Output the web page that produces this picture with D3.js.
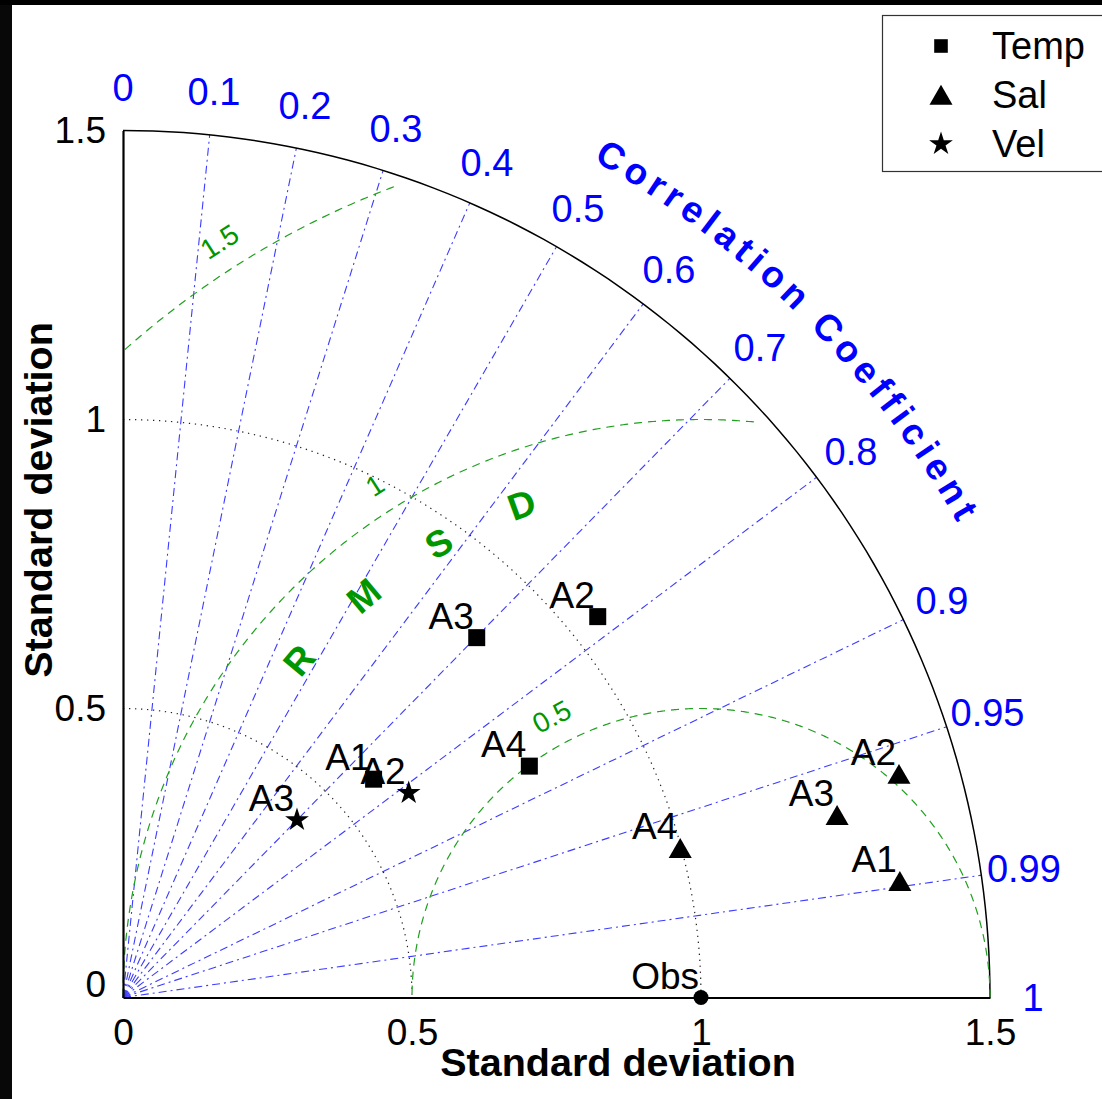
<!DOCTYPE html>
<html>
<head>
<meta charset="utf-8">
<script src="https://cdn.jsdelivr.net/npm/d3@7"></script>
<style>
body { margin: 0; background: #fff; }
text { font-family: "Liberation Sans", Arial, sans-serif; }
</style>
</head>
<body>
<div id="chart"></div>
<script>
// values
const models = ['A1', 'A2', 'A3', 'A4'];
const tempStd = [0.575, 1.053, 0.873, 0.809];
const tempCorr = [0.754, 0.780, 0.701, 0.869];
const salStd = [1.359, 1.397, 1.275, 0.998];
const salCorr = [0.989, 0.961, 0.969, 0.966];
const velModels = ['A2', 'A3'];
const velStd = [0.608, 0.430];
const velCorr = [0.813, 0.700];
const obsStd = 1;

const stdTicks = [0, 0.5, 1, 1.5];
const stdCircles = [0.5, 1];
const corrLines = [0.1, 0.2, 0.3, 0.4, 0.5, 0.6, 0.7, 0.8, 0.9, 0.95, 0.99];
const corrLabels = [0, 0.1, 0.2, 0.3, 0.4, 0.5, 0.6, 0.7, 0.8, 0.9, 0.95, 0.99, 1];
const rmsCircles = [0.5, 1, 1.5];
const rmsLetters = ['R', 'M', 'S', 'D'];
const legendNames = ['Temp', 'Sal', 'Vel'];

const width = 1102, height = 1099;
const origin = { x: 123, y: 997.5 };
const maxStd = 1.5;
const blue = '#0000ff', lineBlue = '#3c3cff', green = '#009600', lineGreen = '#1fa01f';

const svg = d3.select('#chart').append('svg')
    .attr('width', width)
    .attr('height', height);

svg.append('rect').attr('width', width).attr('height', height).attr('fill', '#fff');
svg.append('rect').attr('width', 12).attr('height', height).attr('fill', '#080808');
svg.append('rect').attr('width', width).attr('height', 5).attr('fill', '#000');

const x = d3.scaleLinear().domain([0, maxStd]).range([origin.x, 990]);
const y = d3.scaleLinear().domain([0, maxStd]).range([origin.y, 130.5]);
const r = d3.scaleLinear().domain([0, maxStd]).range([0, 867]);

function toXY(std, corr) {
    return [x(std * corr), y(std * Math.sqrt(1 - corr * corr))];
}

// correlation rays
svg.append('g').selectAll('line')
    .data(corrLines)
    .enter()
    .append('line')
    .attr('x1', x(0)).attr('y1', y(0))
    .attr('x2', d => toXY(maxStd, d)[0])
    .attr('y2', d => toXY(maxStd, d)[1])
    .attr('stroke', lineBlue)
    .attr('stroke-width', 1.1)
    .attr('stroke-dasharray', '8,4,2,4');

// std circles (dotted)
const quarter = d3.range(0, 91).map(a => a * Math.PI / 180);
const radial = d3.lineRadial().angle(d => d[0]).radius(d => d[1]);
const polar = svg.append('g').attr('transform', `translate(${origin.x},${origin.y})`);

polar.selectAll('.std-circle')
    .data(stdCircles)
    .enter()
    .append('path')
    .attr('class', 'std-circle')
    .attr('d', s => radial(quarter.map(a => [a, r(s)])))
    .attr('fill', 'none')
    .attr('stroke', '#222')
    .attr('stroke-width', 1.2)
    .attr('stroke-dasharray', '1.3,4.7');

// RMSD arcs around Obs (stop a little inside the rim, as in the source)
const rmsLine = d3.line()
    .defined(p => p[0] >= 0 && Math.hypot(p[0], p[1]) <= (p[1] > 0.3 ? 1.48 : maxStd))
    .x(p => x(p[0]))
    .y(p => y(p[1]));

svg.append('g').selectAll('path')
    .data(rmsCircles)
    .enter()
    .append('path')
    .attr('d', R => rmsLine(d3.range(0, 721).map(i => {
        const phi = i / 720 * Math.PI;
        return [obsStd + R * Math.cos(phi), R * Math.sin(phi)];
    })))
    .attr('fill', 'none')
    .attr('stroke', lineGreen)
    .attr('stroke-width', 1.2)
    .attr('stroke-dasharray', '8,6');

// outer boundary
polar.append('path')
    .attr('d', radial(quarter.map(a => [a, r(maxStd)])))
    .attr('fill', 'none')
    .attr('stroke', '#000')
    .attr('stroke-width', 1.5);

// axes
const xAxis = svg.append('g')
    .attr('transform', `translate(0,${origin.y})`)
    .call(d3.axisBottom(x).tickValues(stdTicks).tickSize(0).tickSizeOuter(0).tickPadding(21).tickFormat(d => String(d)));
const yAxis = svg.append('g')
    .attr('transform', `translate(${origin.x},0)`)
    .call(d3.axisLeft(y).tickValues(stdTicks).tickSize(0).tickSizeOuter(0).tickPadding(17).tickFormat(d => String(d)));

[xAxis, yAxis].forEach(g => {
    g.select('.domain').attr('stroke', '#000').attr('stroke-width', 2.2);
    g.selectAll('text')
        .attr('font-family', '"Liberation Sans", Arial, sans-serif')
        .attr('font-size', 37)
        .attr('fill', '#000');
});
yAxis.selectAll('.tick text').filter(d => d === 0).attr('y', -13);

svg.append('text')
    .attr('x', 618).attr('y', 1076)
    .attr('text-anchor', 'middle')
    .attr('font-size', 39.5).attr('font-weight', 'bold')
    .text('Standard deviation');

svg.append('text')
    .attr('transform', 'translate(52,500) rotate(-90)')
    .attr('text-anchor', 'middle')
    .attr('font-size', 39.5).attr('font-weight', 'bold')
    .text('Standard deviation');

// correlation labels
svg.append('g').selectAll('text')
    .data(corrLabels)
    .enter()
    .append('text')
    .attr('x', d => origin.x + (r(maxStd) + 43) * d)
    .attr('y', d => origin.y - (r(maxStd) + 43) * Math.sqrt(1 - d * d))
    .attr('text-anchor', 'middle')
    .attr('dominant-baseline', 'central')
    .attr('font-size', 38)
    .attr('fill', blue)
    .text(d => String(d));

// curved title
const titleR = 960;
const a1 = 80 * Math.PI / 180, a2 = 10 * Math.PI / 180;
svg.append('path')
    .attr('id', 'corr-path')
    .attr('fill', 'none')
    .attr('d', `M${origin.x + titleR * Math.cos(a1)},${origin.y - titleR * Math.sin(a1)} ` +
        `A${titleR},${titleR} 0 0 1 ${origin.x + titleR * Math.cos(a2)},${origin.y - titleR * Math.sin(a2)}`);
svg.append('text')
    .attr('font-size', 37)
    .attr('font-weight', 'bold')
    .attr('letter-spacing', 5.5)
    .attr('fill', blue)
    .append('textPath')
    .attr('href', '#corr-path')
    .attr('startOffset', '50%')
    .attr('text-anchor', 'middle')
    .text('Correlation Coefficient');

// RMSD labels
svg.append('g').selectAll('text')
    .data(rmsCircles)
    .enter()
    .append('text')
    .attr('transform', R => {
        const th = (R < 1 ? 118 : 122.5);
        const rho = R + 0.05;
        const t = th * Math.PI / 180;
        return `translate(${x(obsStd + rho * Math.cos(t))},${y(rho * Math.sin(t))}) rotate(${90 - th})`;
    })
    .attr('text-anchor', 'middle')
    .attr('dominant-baseline', 'central')
    .attr('font-size', 28)
    .attr('fill', green)
    .text(d => String(d));

svg.append('g').selectAll('text')
    .data(rmsLetters)
    .enter()
    .append('text')
    .attr('transform', (d, i) => {
        const th = 140 - 10 * i;
        const t = th * Math.PI / 180;
        const rho = 0.907;
        return `translate(${x(obsStd + rho * Math.cos(t))},${y(rho * Math.sin(t))}) rotate(${90 - th})`;
    })
    .attr('text-anchor', 'middle')
    .attr('dominant-baseline', 'central')
    .attr('font-size', 37)
    .attr('font-weight', 'bold')
    .attr('fill', green)
    .text(d => d);

// markers
const symbols = {
    Temp: d3.symbol().type(d3.symbolSquare).size(289),
    Sal: d3.symbol().type(d3.symbolTriangle).size(230),
    Vel: d3.symbol().type(d3.symbolStar).size(175)
};
const triShift = 3;

const series = [
    { name: 'Temp', labels: models, std: tempStd, corr: tempCorr },
    { name: 'Sal', labels: models, std: salStd, corr: salCorr },
    { name: 'Vel', labels: velModels, std: velStd, corr: velCorr }
];

series.forEach(s => {
    const pts = s.labels.map((m, i) => ({ m, p: toXY(s.std[i], s.corr[i]) }));
    const g = svg.append('g');
    g.selectAll('path')
        .data(pts)
        .enter()
        .append('path')
        .attr('d', symbols[s.name]())
        .attr('transform', d => `translate(${d.p[0]},${d.p[1] + (s.name === 'Sal' ? triShift : 0)})`)
        .attr('fill', '#000');
    g.selectAll('text')
        .data(pts)
        .enter()
        .append('text')
        .attr('x', d => d.p[0] - 3)
        .attr('y', d => d.p[1] - 9)
        .attr('text-anchor', 'end')
        .attr('font-size', 37)
        .text(d => d.m);
});

// observation
svg.append('circle')
    .attr('cx', x(obsStd)).attr('cy', y(0))
    .attr('r', 7.5)
    .attr('fill', '#000');
svg.append('text')
    .attr('x', x(obsStd) - 2).attr('y', y(0) - 9)
    .attr('text-anchor', 'end')
    .attr('font-size', 37)
    .text('Obs');

// legend
const legend = svg.append('g');
legend.append('rect')
    .attr('x', 882.5).attr('y', 15.5)
    .attr('width', 260).attr('height', 156)
    .attr('fill', '#fff')
    .attr('stroke', '#333')
    .attr('stroke-width', 1.2);

legendNames.forEach((name, i) => {
    const cy = 46 + i * 49;
    legend.append('path')
        .attr('d', symbols[name]())
        .attr('transform', `translate(941,${cy + (name === 'Sal' ? triShift : 0)}) scale(${name === 'Temp' ? 0.8 : 1})`)
        .attr('fill', '#000');
    legend.append('text')
        .attr('x', 992).attr('y', cy + 13)
        .attr('font-size', 38)
        .text(name);
});
</script>
</body>
</html>
